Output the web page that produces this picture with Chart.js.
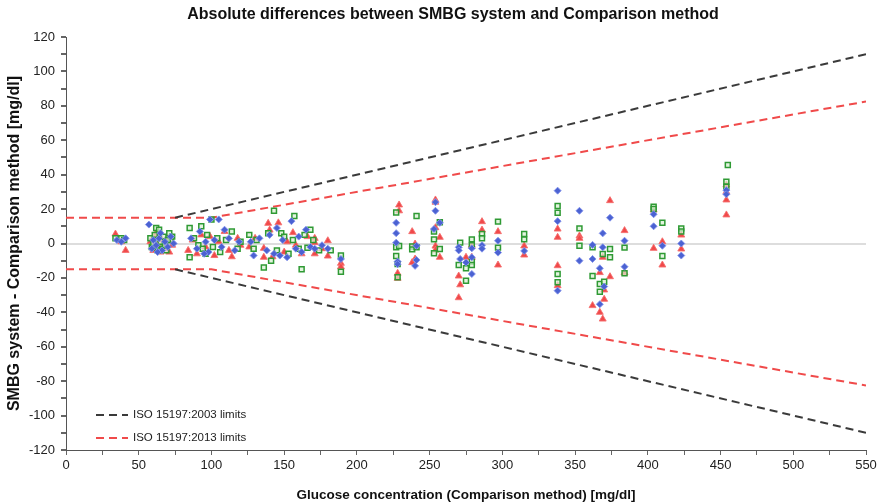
<!DOCTYPE html>
<html>
<head>
<meta charset="utf-8">
<script src="https://cdn.jsdelivr.net/npm/chart.js@4.4.1/dist/chart.umd.min.js"></script>
<style>
  html, body { margin: 0; padding: 0; background: #fff; }
  #wrap { width: 886px; height: 503px; }
</style>
</head>
<body>
<div id="wrap"><canvas id="diffChart" width="886" height="503"></canvas></div>
<script>
// measured points [glucose mg/dl, difference mg/dl]
const bluePoints = [
    [35, 2], [38, 1], [41, 3],
    [57, 11], [59, -3], [60, 2], [62, -1], [64, 3], [65, 6], [66, -4], [68, 1], [70, -2], [72, 4], [74, 0], [63, -5],
    [86, 3], [90, -3], [92, 7], [96, 1], [98, -5], [99, 14], [102, 2], [105, 14], [107, -2], [109, 8], [112, 3], [116, -4], [119, 1], [95, -6],
    [127, 1], [129, -7], [133, 3], [138, -4], [140, 5], [143, -6], [145, 9], [147, -7], [149, 2], [152, -8], [155, 13], [158, -3],
    [160, 4], [162, -5], [165, 8], [168, -2], [171, -3], [176, -1], [180, -3], [189, -9],
    [227, 12], [227, 6], [227, 0.5], [228, -10.5], [228, -12],
    [241, -1.3], [241, -9.6], [240, -13],
    [254, 24], [254, 19], [253, 8.4], [257, 12],
    [270, -2.2], [271, -9], [270, -4], [275, -11], [279, -2.8], [279, -8], [279, -17.7],
    [286, -1], [286, -3], [297, 1.6], [297, -5.3], [315, -4.3],
    [338, 30.7], [338, 13], [338, -27.4], [353, 19], [353, -10],
    [362, -0.8], [362, -9], [367, -35.3], [367, -14.4], [369, 5.9], [369, -2.2], [370, -25], [374, 15],
    [384, 1.6], [384, -13.5], [404, 17], [404, 10], [410, -1.3], [423, 0], [423, -7],
    [454, 31], [454, 28.6]
];

const greenPoints = [
    [34, 3], [38, 3], [40, 2],
    [58, 3], [59, -2], [61, 5], [62, 9], [64, 8], [65, 1], [66, -3], [67, 4], [69, -4], [71, 6], [72, 2], [73, 4], [60, 0], [63, -4], [68, -1], [70, 2],
    [85, 9], [85, -8], [88, 3], [91, -1], [93, 10], [94, -3], [97, 5], [100, 14], [101, -2], [104, 3], [106, -5], [110, 2], [114, 7], [118, -3], [120, 1], [96, -6],
    [126, 5], [129, -3], [131, 2], [136, -14], [139, 6], [141, -10], [143, 19], [145, -4], [148, 6], [150, 4], [153, -6], [157, 16],
    [156, 2], [160, -3], [162, -15], [164, 5], [168, 8], [166, -2.5], [170, 2], [174, -4],
    [182, -4], [189, -7], [189, -16.4],
    [227, 18], [227, -2.2], [229, -1.5], [227, -7.3], [228, -12], [228, -19.6],
    [241, 16], [238, -1.8], [238, -3.4], [241, -2.2],
    [257, 12.3], [253, 6.9], [253, 2.4], [257, -3.2], [253, -5.7],
    [271, 0.5], [270, -12.5], [275, -14.4], [275, -21.6], [279, 2.4], [279, -1], [279, -10.5], [279, -12.5],
    [286, 5.5], [286, 3], [297, 12.7], [297, -2.4], [315, 5.5], [315, 2.4],
    [338, 21.8], [338, 17.9], [338, -17.7], [338, -22.5], [353, 8.8], [353, -1.3],
    [362, -2.2], [362, -18.9], [367, -23.5], [367, -28], [369, -6.1], [370, -22.2], [374, -3.2], [374, -8],
    [384, -2.4], [384, -17.3], [404, 21.4], [404, 20], [410, 12.1], [410, -7.3], [423, 8.8], [423, 7],
    [455, 45.6], [454, 35.9], [454, 33]
];

const redPoints = [
    [34, 5.5], [38, 1], [41, -4],
    [58, 1], [60, -4], [61, 4], [63, -1], [65, -5], [66, 2], [68, -3], [70, 3], [71, -5], [73, -1], [62, 6], [67, -2],
    [84, -4], [87, 2], [90, -6], [93, 5], [96, -2], [99, 4], [102, -7], [105, 1], [109, 7], [112, -4], [114, -7.7], [118, 3], [120, -1],
    [126, -2], [130, 3], [136, -2.8], [136, -8], [139, 11.7], [140, 7.8], [142, -7.7], [146, 12], [150, -5], [152, 1], [156, 6.3],
    [158, -1], [162, -6], [166, 4], [171, 3], [171, 0.5], [171, -6], [176, -3], [180, 1.6], [180, -7.3],
    [189, -11.5], [189, -13.5],
    [229, 22.4], [229, 19], [228, -17.3], [228, -20.2],
    [238, 6.9], [238, -11.1], [240, -0.3], [240, -9],
    [254, 25.3], [254, 24], [254, 9.2], [257, 3.6], [254, -1.5], [254, -3.8], [257, -8],
    [270, -18.9], [271, -24], [270, -31.5], [275, -8], [279, -8], [279, -1],
    [286, 12.7], [286, 7.8], [297, 6.9], [297, -12.5], [315, -1.4], [315, -6.7],
    [338, 8.4], [338, 3.6], [338, -12.9], [338, -24.5], [353, 4.4], [353, 3],
    [362, -36.1], [367, -40], [367, -16.9], [369, -8], [370, -27], [370, -32.4], [369, -43.9], [374, -19.3], [374, 24.9],
    [384, 7.5], [384, -17], [404, 19.5], [404, -2.8], [410, 1], [410, -12.5], [423, 4.9], [423, -3.2],
    [454, 34], [454, 30], [454, 25.3], [454, 16.6]
];

// ISO limit lines (corner points)
const iso2003Upper = [[75, 15], [550, 110]];
const iso2003Lower = [[75, -15], [550, -110]];
const iso2013Upper = [[0, 15], [100, 15], [550, 82.5]];
const iso2013Lower = [[0, -15], [100, -15], [550, -82.5]];

const legendLabels = ['ISO 15197:2003 limits', 'ISO 15197:2013 limits'];
const chartTitle = 'Absolute differences between SMBG system and Comparison method';
const xTitle = 'Glucose concentration (Comparison method) [mg/dl]';
const yTitle = 'SMBG system - Comparison method [mg/dl]';

const fontFamily = "'Liberation Sans', Arial, Helvetica, sans-serif";
const blackLine = '#3a3a3a';
const redLine = '#f04a4a';

const toXY = pts => pts.map(p => ({ x: p[0], y: p[1] }));

function limitLine(pts, color) {
    return {
        data: toXY(pts),
        showLine: true,
        borderColor: color,
        borderWidth: 2,
        borderDash: [8, 5],
        pointRadius: 0,
        fill: false,
        order: 2
    };
}

const titlePlugin = {
    id: 'topTitle',
    afterDraw(chart) {
        const c = chart.ctx;
        c.save();
        c.font = "bold 16px " + fontFamily;
        c.fillStyle = '#111';
        c.textAlign = 'center';
        c.textBaseline = 'middle';
        c.fillText(chartTitle, 453, 15);
        c.restore();
    }
};

const limitLegend = {
    id: 'limitLegend',
    afterDatasetsDraw(chart) {
        const c = chart.ctx;
        const area = chart.chartArea;
        const colors = [blackLine, redLine];
        c.save();
        c.font = "11.5px " + fontFamily;
        c.textBaseline = 'middle';
        legendLabels.forEach((label, i) => {
            const y = area.bottom - 35 + i * 23;
            c.strokeStyle = colors[i];
            c.lineWidth = 2;
            c.setLineDash([8, 5]);
            c.beginPath();
            c.moveTo(area.left + 30, y);
            c.lineTo(area.left + 62, y);
            c.stroke();
            c.setLineDash([]);
            c.fillStyle = '#222';
            c.fillText(label, area.left + 67, y);
        });
        c.restore();
    }
};

new Chart(document.getElementById('diffChart'), {
    type: 'scatter',
    data: {
        datasets: [
            limitLine(iso2003Upper, blackLine),
            limitLine(iso2003Lower, blackLine),
            limitLine(iso2013Upper, redLine),
            limitLine(iso2013Lower, redLine),
            {
                data: toXY(bluePoints),
                pointStyle: 'rectRot',
                pointRadius: 3.5,
                backgroundColor: '#4b62d2',
                borderColor: 'rgba(130,145,235,0.9)',
                borderWidth: 1,
                order: 1
            },
            {
                data: toXY(greenPoints),
                pointStyle: 'rect',
                pointRadius: 3.5,
                backgroundColor: 'rgba(215,240,210,0.7)',
                borderColor: '#2f9a34',
                borderWidth: 1.5,
                order: 1
            },
            {
                data: toXY(redPoints),
                pointStyle: 'triangle',
                pointRadius: 4,
                backgroundColor: '#f0494a',
                borderColor: 'rgba(245,110,110,0.9)',
                borderWidth: 1,
                order: 1
            }
        ]
    },
    options: {
        responsive: false,
        animation: false,
        layout: { padding: { top: 37, right: 20, left: 0, bottom: 0 } },
        plugins: {
            legend: { display: false },
            title: { display: false },
            tooltip: { enabled: false }
        },
        scales: {
            x: {
                type: 'linear',
                min: 0,
                max: 550,
                afterFit: scale => { scale.height = 53; },
                border: { color: '#555', width: 1 },
                grid: { drawOnChartArea: false, tickLength: 5, tickColor: '#666' },
                ticks: {
                    stepSize: 25,
                    autoSkip: false,
                    maxRotation: 0,
                    padding: 3,
                    color: '#222',
                    font: { family: fontFamily, size: 13 },
                    callback: v => (v % 50 === 0 ? v : '')
                },
                title: {
                    display: true,
                    text: xTitle,
                    color: '#111',
                    padding: { top: 4, bottom: 0 },
                    font: { family: fontFamily, size: 13.5, weight: 'bold' }
                }
            },
            y: {
                min: -120,
                max: 120,
                afterFit: scale => { scale.width = 66; },
                border: { color: '#555', width: 1 },
                grid: {
                    tickLength: 5,
                    tickColor: '#666',
                    lineWidth: 2,
                    color: ctx => (ctx.tick && ctx.tick.value === 0 ? '#dddddd' : 'rgba(0,0,0,0)')
                },
                ticks: {
                    stepSize: 10,
                    autoSkip: false,
                    padding: 6,
                    color: '#222',
                    font: { family: fontFamily, size: 13 },
                    callback: v => (v % 20 === 0 ? v : '')
                },
                title: {
                    display: true,
                    text: yTitle,
                    color: '#111',
                    padding: { top: 5, bottom: 0 },
                    font: { family: fontFamily, size: 16, weight: 'bold' }
                }
            }
        }
    },
    plugins: [titlePlugin, limitLegend]
});
</script>
</body>
</html>
